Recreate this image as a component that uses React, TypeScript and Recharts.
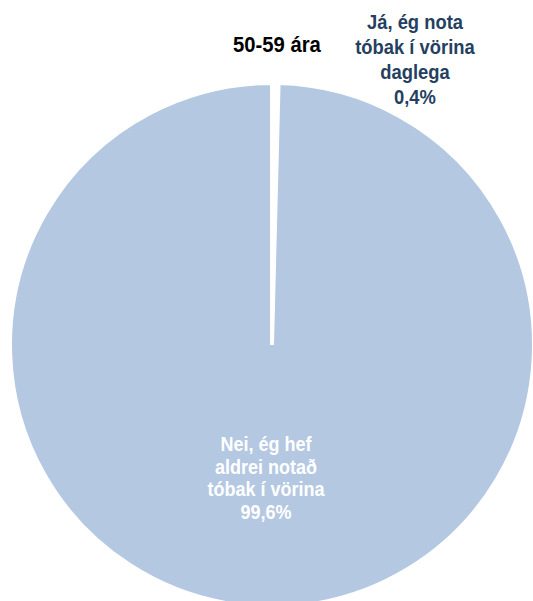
import { PieChart, Pie, Cell } from 'recharts';

const categories = ['Já, ég nota tóbak í vörina daglega', 'Nei, ég hef aldrei notað tóbak í vörina'];
const labelLines = [
    ['Já, ég nota', 'tóbak í vörina', 'daglega'],
    ['Nei, ég hef', 'aldrei notað', 'tóbak í vörina'],
];
const shares = [0.4, 99.6];
const pctLabels = ['0,4%', '99,6%'];
const title = '50-59 ára';

const colors = ['#ffffff', '#b4c8e2'];
const font = '"Liberation Sans Narrow", "Arial Narrow", "Liberation Sans", Arial, sans-serif';

const data = categories.map((name, i) => ({ name, value: shares[i] }));

// narrow-ish text: squeeze horizontally around x
const squeeze = (x: number, k: number) => `translate(${x},0) scale(${k},1) translate(${-x},0)`;

const renderLabel = (props: any) => {
    const { cx, cy, index } = props;
    const lines = [...labelLines[index], pctLabels[index]];
    if (index === 0) {
        const x = cx + 143;
        return (
            <text x={x} y={cy - 316} transform={squeeze(x, 0.92)} textAnchor="middle" fill="#243f60" fontFamily={font} fontWeight="bold" fontSize={20}>
                {lines.map((l, i) => (
                    <tspan key={i} x={x} dy={i === 0 ? 0 : 25}>{l}</tspan>
                ))}
            </text>
        );
    }
    const x = cx - 6;
    return (
        <text x={x} y={cy + 106} transform={squeeze(x, 0.9)} textAnchor="middle" fill="#ffffff" fontFamily={font} fontWeight="bold" fontSize={20}>
            {lines.map((l, i) => (
                <tspan key={i} x={x} dy={i === 0 ? 0 : 22.7}>{l}</tspan>
            ))}
        </text>
    );
};

const App = () => {
    return (
        <div style={{ position: 'absolute', left: 0, top: 0, width: 533, height: 601, background: '#ffffff' }}>
            <div style={{
                position: 'absolute', left: 200, top: 32, width: 154, textAlign: 'center',
                fontFamily: font, fontWeight: 'bold', fontSize: 22, color: '#000000', zIndex: 2,
                transform: 'scaleX(0.92)',
            }}>
                {title}
            </div>
            <PieChart width={533} height={601} margin={{ top: 0, right: 0, bottom: 0, left: 0 }}>
                <Pie
                    data={data}
                    dataKey="value"
                    nameKey="name"
                    cx={272}
                    cy={345}
                    outerRadius={262}
                    startAngle={90}
                    endAngle={-270}
                    stroke="#ffffff"
                    strokeWidth={4}
                    label={renderLabel}
                    labelLine={false}
                    isAnimationActive={false}
                >
                    {data.map((d, i) => (
                        <Cell key={d.name} fill={colors[i]} />
                    ))}
                </Pie>
            </PieChart>
        </div>
    );
};

export default App;
